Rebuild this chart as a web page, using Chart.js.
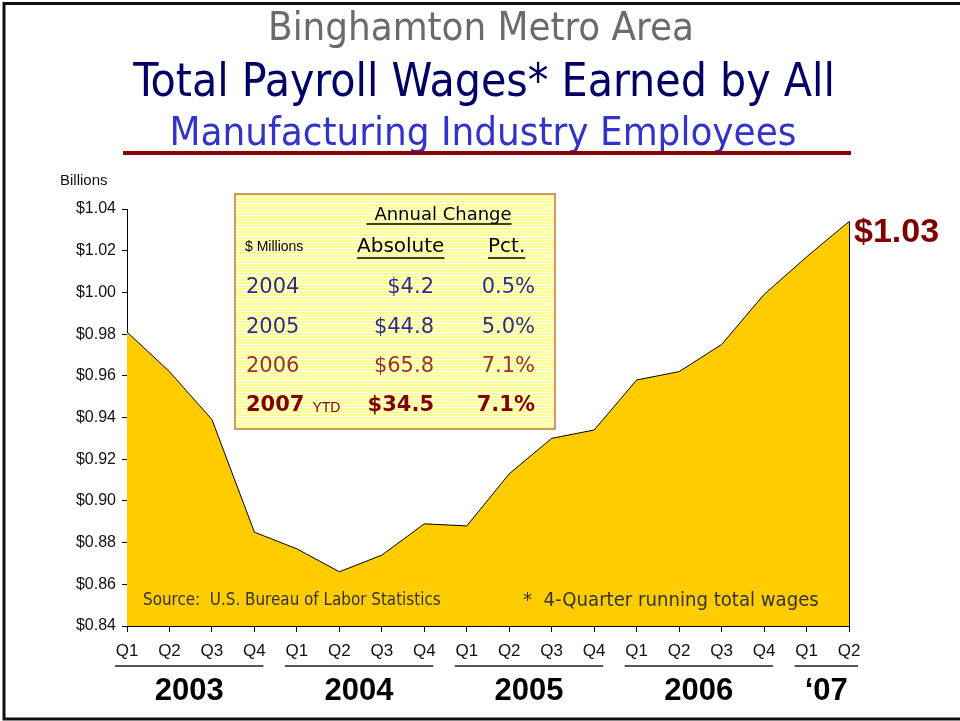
<!DOCTYPE html>
<html>
<head>
<meta charset="utf-8">
<title>Binghamton Metro Area - Manufacturing Payroll Wages</title>
<script src="https://cdn.jsdelivr.net/npm/chart.js@4.4.1/dist/chart.umd.min.js"></script>
<style>
  html, body { margin: 0; padding: 0; background: #fff; }
  canvas { display: block; }
</style>
</head>
<body>
<canvas id="wages" width="960" height="721"></canvas>
<script>
// quarterly data, billions of dollars (4-quarter running total)
var quarters = ["Q1", "Q2", "Q3", "Q4", "Q1", "Q2", "Q3", "Q4", "Q1", "Q2", "Q3", "Q4", "Q1", "Q2", "Q3", "Q4", "Q1", "Q2"];
var wages = [0.981, 0.962, 0.939, 0.885, 0.877, 0.866, 0.874, 0.889, 0.888, 0.913, 0.930, 0.934, 0.958, 0.962, 0.975, 0.999, 1.017, 1.034];
var yearLabels = ["2003", "2004", "2005", "2006", "\u201807"];
var quartersPerYear = [4, 4, 4, 4, 2];
var yMin = 0.84, yMax = 1.04, yStep = 0.02;
var latestLabel = "$1.03";

// inset table
var tableYears = ["2004", "2005", "2006", "2007"];
var tableAbsolute = ["$4.2", "$44.8", "$65.8", "$34.5"];
var tablePct = ["0.5%", "5.0%", "7.1%", "7.1%"];

var SANS = "'Liberation Sans', Arial, sans-serif";
var VERD = "'DejaVu Sans', Verdana, sans-serif";
var TAHO = "'DejaVu Sans Condensed', 'DejaVu Sans', Tahoma, sans-serif";

Chart.defaults.font.family = SANS;

function fitFont(ctx, text, width, weight, family) {
    ctx.font = weight + " 100px " + family;
    var w = ctx.measureText(text).width;
    return weight + " " + (100 * width / w).toFixed(2) + "px " + family;
}

function stripes() {
    var c = document.createElement("canvas");
    c.width = 4; c.height = 3;
    var g = c.getContext("2d");
    g.fillStyle = "#ffff8c";
    g.fillRect(0, 0, 4, 2);
    g.fillStyle = "#ffffff";
    g.fillRect(0, 2, 4, 1);
    return c;
}

function underline(ctx, x1, x2, y, color, w) {
    ctx.strokeStyle = color;
    ctx.lineWidth = w;
    ctx.beginPath();
    ctx.moveTo(x1, y);
    ctx.lineTo(x2, y);
    ctx.stroke();
}

var slideParts = {
    id: "slideParts",
    beforeDraw: function (chart) {
        var ctx = chart.ctx;
        ctx.save();
        ctx.fillStyle = "#fff";
        ctx.fillRect(0, 0, chart.width, chart.height);

        // frame
        ctx.strokeStyle = "#111";
        ctx.lineWidth = 3;
        ctx.beginPath();
        ctx.moveTo(960, 3.5);
        ctx.lineTo(4, 3.5);
        ctx.lineTo(4, 719);
        ctx.lineTo(960, 719);
        ctx.stroke();

        // titles
        ctx.textAlign = "center";
        ctx.textBaseline = "alphabetic";
        ctx.fillStyle = "#6b6b6b";
        ctx.font = fitFont(ctx, "Binghamton Metro Area", 426, "normal", TAHO);
        ctx.fillText("Binghamton Metro Area", 481, 40);
        ctx.fillStyle = "#000066";
        ctx.font = fitFont(ctx, "Total Payroll Wages* Earned by All", 702, "normal", TAHO);
        ctx.fillText("Total Payroll Wages* Earned by All", 484, 96);
        ctx.fillStyle = "#3333cc";
        ctx.font = fitFont(ctx, "Manufacturing Industry Employees", 627, "normal", TAHO);
        ctx.fillText("Manufacturing Industry Employees", 483, 145);

        ctx.fillStyle = "#8b0000";
        ctx.fillRect(123, 151, 728, 4);

        ctx.fillStyle = "#111";
        ctx.textAlign = "left";
        ctx.textBaseline = "middle";
        ctx.font = "15px " + SANS;
        ctx.fillText("Billions", 60, 181);
        ctx.restore();
    },
    afterDatasetsDraw: function (chart) {
        var ctx = chart.ctx;
        var xs = chart.scales.x, ys = chart.scales.y;
        var area = chart.chartArea;
        var last = wages.length - 1;
        var lx = xs.getPixelForValue(last), ly = ys.getPixelForValue(wages[last]);
        ctx.save();

        // right edge of the area
        ctx.strokeStyle = "#000";
        ctx.lineWidth = 1;
        ctx.beginPath();
        ctx.moveTo(Math.round(lx) + 0.5, ly);
        ctx.lineTo(Math.round(lx) + 0.5, area.bottom);
        ctx.stroke();

        // latest value
        ctx.fillStyle = "#800000";
        ctx.font = "bold 34px " + SANS;
        ctx.textAlign = "left";
        ctx.textBaseline = "middle";
        ctx.fillText(latestLabel, lx + 5, ly + 11);

        // notes inside the area
        ctx.fillStyle = "#333";
        ctx.font = fitFont(ctx, "Source:  U.S. Bureau of Labor Statistics", 298, "normal", TAHO);
        ctx.fillText("Source:  U.S. Bureau of Labor Statistics", 143, 601);
        ctx.font = fitFont(ctx, "*  4-Quarter running total wages", 296, "normal", TAHO);
        ctx.fillText("*  4-Quarter running total wages", 523, 601);

        // year groups under the quarters
        var start = 0;
        for (var i = 0; i < yearLabels.length; i++) {
            var end = start + quartersPerYear[i] - 1;
            var x1 = xs.getPixelForValue(start) - 12;
            var x2 = xs.getPixelForValue(end) + 9;
            underline(ctx, x1, x2, 666, "#555", 2);
            ctx.fillStyle = "#000";
            ctx.font = "bold 31px " + SANS;
            ctx.textAlign = "center";
            ctx.fillText(yearLabels[i], (x1 + x2) / 2, 691);
            start = end + 1;
        }

        // inset table
        ctx.fillStyle = ctx.createPattern(stripes(), "repeat");
        ctx.fillRect(235, 194, 320, 235);
        ctx.strokeStyle = "#cc9966";
        ctx.lineWidth = 2;
        ctx.strokeRect(235, 194, 320, 235);

        ctx.fillStyle = "#000";
        ctx.textAlign = "center";
        ctx.font = "18px " + VERD;
        ctx.fillText("Annual Change", 443, 215);
        var aw = ctx.measureText("Annual Change").width;
        underline(ctx, 443 - aw / 2 - 8, 443 + aw / 2, 224, "#000", 1.5);

        ctx.textAlign = "left";
        ctx.font = "14px " + SANS;
        ctx.fillText("$ Millions", 245, 247);
        ctx.font = "20px " + VERD;
        ctx.fillText("Absolute", 357, 247);
        underline(ctx, 357, 357 + ctx.measureText("Absolute").width, 258, "#000", 1.5);
        ctx.fillText("Pct.", 488, 247);
        underline(ctx, 488, 488 + ctx.measureText("Pct.").width, 258, "#000", 1.5);

        var rowY = [288, 328, 367, 406];
        var rowColor = ["#2e2e8a", "#2e2e8a", "#993333", "#800000"];
        for (var r = 0; r < tableYears.length; r++) {
            var bold = r === tableYears.length - 1;
            ctx.fillStyle = rowColor[r];
            ctx.font = (bold ? "bold " : "") + "21px " + VERD;
            ctx.textAlign = "left";
            ctx.fillText(tableYears[r], 246, rowY[r]);
            if (bold) {
                var yw = ctx.measureText(tableYears[r]).width;
                ctx.font = "14px " + SANS;
                ctx.fillText("YTD", 246 + yw + 8, rowY[r] + 2);
                ctx.font = "bold 21px " + VERD;
            }
            ctx.textAlign = "right";
            ctx.fillText(tableAbsolute[r], 434, rowY[r]);
            ctx.fillText(tablePct[r], 535, rowY[r]);
        }
        ctx.restore();
    }
};

var ctx = document.getElementById("wages").getContext("2d");

var chart = new Chart(ctx, {
    type: "line",
    data: {
        labels: quarters,
        datasets: [{
            data: wages,
            fill: "start",
            backgroundColor: "#ffcc00",
            borderColor: "#000",
            borderWidth: 1,
            pointRadius: 0,
            tension: 0
        }]
    },
    options: {
        responsive: false,
        animation: false,
        layout: { padding: { top: 209, right: 111, left: 0, bottom: 0 } },
        plugins: {
            legend: { display: false },
            tooltip: { enabled: false }
        },
        scales: {
            x: {
                type: "category",
                offset: false,
                grid: { drawOnChartArea: false, tickLength: 6, color: "#000", offset: false },
                border: { color: "#000", width: 1 },
                ticks: { color: "#111", font: { size: 17 }, padding: 9, autoSkip: false, maxRotation: 0 },
                afterFit: function (scale) { scale.height = 95; }
            },
            y: {
                min: yMin,
                max: yMax,
                grid: { drawOnChartArea: false, tickLength: 5, color: "#000" },
                border: { color: "#000", width: 1 },
                ticks: {
                    stepSize: yStep,
                    color: "#111",
                    font: { size: 16 },
                    padding: 6,
                    callback: function (v) { return "$" + Number(v).toFixed(2); }
                },
                afterFit: function (scale) { scale.width = 127; }
            }
        }
    },
    plugins: [slideParts]
});
</script>
</body>
</html>
